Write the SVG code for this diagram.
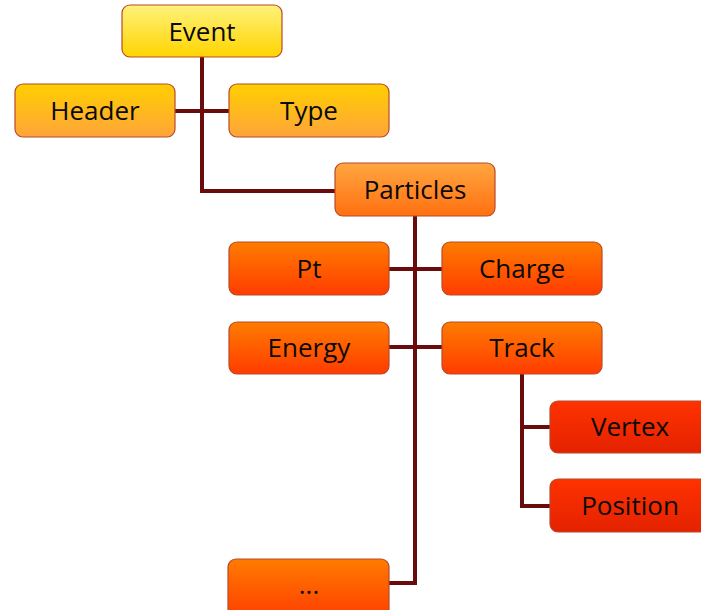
<svg xmlns="http://www.w3.org/2000/svg" width="701" height="610" viewBox="0 0 701 610">
<defs>
<linearGradient id="g1" x1="0" y1="0" x2="0" y2="1"><stop offset="0" stop-color="#fff27a"/><stop offset="1" stop-color="#ffd400"/></linearGradient>
<linearGradient id="g2" x1="0" y1="0" x2="0" y2="1"><stop offset="0" stop-color="#ffcf00"/><stop offset="1" stop-color="#ffa43a"/></linearGradient>
<linearGradient id="g3" x1="0" y1="0" x2="0" y2="1"><stop offset="0" stop-color="#ffa640"/><stop offset="1" stop-color="#ff7010"/></linearGradient>
<linearGradient id="g4" x1="0" y1="0" x2="0" y2="1"><stop offset="0" stop-color="#ff7c00"/><stop offset="1" stop-color="#ff3c00"/></linearGradient>
<linearGradient id="g5" x1="0" y1="0" x2="0" y2="1"><stop offset="0" stop-color="#ff3200"/><stop offset="1" stop-color="#e42200"/></linearGradient>
</defs>
<style>
rect{stroke:#b84a2a;stroke-width:1.2}
text{font-family:"Open Sans","DejaVu Sans",sans-serif;font-size:26px;fill:#0a0a0a;text-anchor:middle}
.c{fill:none;stroke:#6a0c0c;stroke-width:4}
</style>
<g id="connectors">
<path class="c" d="M202 57 V191 H335"/>
<path class="c" d="M175 111 H229"/>
<path class="c" d="M415 216 V583 H389"/>
<path class="c" d="M389 269 H442"/>
<path class="c" d="M389 347 H442"/>
<path class="c" d="M522 374 V506 H550"/>
<path class="c" d="M522 427 H550"/>
</g>
<g id="event"><rect x="122" y="5" width="160" height="52" rx="8" fill="url(#g1)"/><text x="202" y="41">Event</text></g>
<g id="header"><rect x="15" y="84" width="160" height="53" rx="8" fill="url(#g2)"/><text x="95" y="120">Header</text></g>
<g id="type"><rect x="229" y="84" width="160" height="53" rx="8" fill="url(#g2)"/><text x="309" y="120">Type</text></g>
<g id="particles"><rect x="335" y="163" width="160" height="53" rx="8" fill="url(#g3)"/><text x="415" y="199">Particles</text></g>
<g id="pt"><rect x="229" y="242" width="160" height="53" rx="8" fill="url(#g4)"/><text x="309" y="278">Pt</text></g>
<g id="charge"><rect x="442" y="242" width="160" height="53" rx="8" fill="url(#g4)"/><text x="522" y="278">Charge</text></g>
<g id="energy"><rect x="229" y="322" width="160" height="52" rx="8" fill="url(#g4)"/><text x="309" y="357">Energy</text></g>
<g id="track"><rect x="442" y="322" width="160" height="52" rx="8" fill="url(#g4)"/><text x="522" y="357">Track</text></g>
<g id="vertex"><rect x="550" y="401" width="160" height="52" rx="8" fill="url(#g5)"/><text x="630" y="436">Vertex</text></g>
<g id="position"><rect x="550" y="479" width="160" height="53" rx="8" fill="url(#g5)"/><text x="630" y="515">Position</text></g>
<g id="more"><rect x="228" y="559" width="161" height="60" rx="8" fill="url(#g4)"/><text x="309" y="594">...</text></g>
</svg>
